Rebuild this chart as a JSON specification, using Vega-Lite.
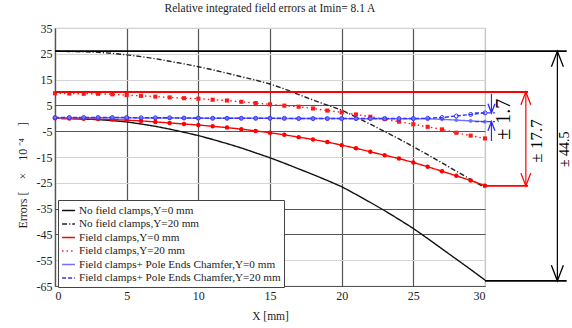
{
 "$schema": "https://vega.github.io/schema/vega-lite/v6.json",
 "width": 430, "height": 258,
 "autosize": {"type": "none"},
 "padding": {"left": 55, "top": 28, "right": 87, "bottom": 42},
 "background": "white",
 "title": {"text": "Relative integrated field errors at Imin= 8.1 A", "font": "Liberation Serif", "fontSize": 11.5, "fontWeight": "normal", "color": "#222", "offset": 8},
 "config": {"view": {"stroke": "#c8c8c8", "strokeWidth": 1.2}, "axis": {"labelOverlap": false, "labelSeparation": 0},
  "locale": {"number": {"decimal": ".", "thousands": ",", "grouping": [3], "currency": ["$", ""], "minus": "-"}}},
 "datasets": {
  "series": [
   {"s":"No field clamps,Y=0 mm","x":0,"v":0},{"s":"No field clamps,Y=0 mm","x":1,"v":-0.1},{"s":"No field clamps,Y=0 mm","x":2,"v":-0.3},{"s":"No field clamps,Y=0 mm","x":3,"v":-0.5},{"s":"No field clamps,Y=0 mm","x":4,"v":-0.9},{"s":"No field clamps,Y=0 mm","x":5,"v":-1.4},{"s":"No field clamps,Y=0 mm","x":6,"v":-2.2},{"s":"No field clamps,Y=0 mm","x":7,"v":-3.1},{"s":"No field clamps,Y=0 mm","x":8,"v":-4.2},{"s":"No field clamps,Y=0 mm","x":9,"v":-5.4},{"s":"No field clamps,Y=0 mm","x":10,"v":-6.7},{"s":"No field clamps,Y=0 mm","x":11,"v":-8.2},{"s":"No field clamps,Y=0 mm","x":12,"v":-9.8},{"s":"No field clamps,Y=0 mm","x":13,"v":-11.5},{"s":"No field clamps,Y=0 mm","x":14,"v":-13.4},{"s":"No field clamps,Y=0 mm","x":15,"v":-15.3},{"s":"No field clamps,Y=0 mm","x":16,"v":-17.4},{"s":"No field clamps,Y=0 mm","x":17,"v":-19.6},{"s":"No field clamps,Y=0 mm","x":18,"v":-21.8},{"s":"No field clamps,Y=0 mm","x":19,"v":-24.1},{"s":"No field clamps,Y=0 mm","x":20,"v":-26.5},{"s":"No field clamps,Y=0 mm","x":21,"v":-29.5},{"s":"No field clamps,Y=0 mm","x":22,"v":-32.6},{"s":"No field clamps,Y=0 mm","x":23,"v":-35.8},{"s":"No field clamps,Y=0 mm","x":24,"v":-39.2},{"s":"No field clamps,Y=0 mm","x":25,"v":-42.7},{"s":"No field clamps,Y=0 mm","x":26,"v":-46.6},{"s":"No field clamps,Y=0 mm","x":27,"v":-50.6},{"s":"No field clamps,Y=0 mm","x":28,"v":-54.6},{"s":"No field clamps,Y=0 mm","x":29,"v":-58.6},{"s":"No field clamps,Y=0 mm","x":30,"v":-62.7},
   {"s":"No field clamps,Y=20 mm","x":0,"v":26.0},{"s":"No field clamps,Y=20 mm","x":1,"v":25.9},{"s":"No field clamps,Y=20 mm","x":2,"v":25.8},{"s":"No field clamps,Y=20 mm","x":3,"v":25.6},{"s":"No field clamps,Y=20 mm","x":4,"v":25.2},{"s":"No field clamps,Y=20 mm","x":5,"v":24.6},{"s":"No field clamps,Y=20 mm","x":6,"v":23.9},{"s":"No field clamps,Y=20 mm","x":7,"v":23.1},{"s":"No field clamps,Y=20 mm","x":8,"v":22.1},{"s":"No field clamps,Y=20 mm","x":9,"v":21.1},{"s":"No field clamps,Y=20 mm","x":10,"v":20.0},{"s":"No field clamps,Y=20 mm","x":11,"v":18.8},{"s":"No field clamps,Y=20 mm","x":12,"v":17.5},{"s":"No field clamps,Y=20 mm","x":13,"v":16.1},{"s":"No field clamps,Y=20 mm","x":14,"v":14.8},{"s":"No field clamps,Y=20 mm","x":15,"v":13.3},{"s":"No field clamps,Y=20 mm","x":16,"v":11.4},{"s":"No field clamps,Y=20 mm","x":17,"v":9.2},{"s":"No field clamps,Y=20 mm","x":18,"v":7.1},{"s":"No field clamps,Y=20 mm","x":19,"v":5.1},{"s":"No field clamps,Y=20 mm","x":20,"v":3.2},{"s":"No field clamps,Y=20 mm","x":21,"v":0.5},{"s":"No field clamps,Y=20 mm","x":22,"v":-2.3},{"s":"No field clamps,Y=20 mm","x":23,"v":-5.1},{"s":"No field clamps,Y=20 mm","x":24,"v":-8.0},{"s":"No field clamps,Y=20 mm","x":25,"v":-11.0},{"s":"No field clamps,Y=20 mm","x":26,"v":-14.1},{"s":"No field clamps,Y=20 mm","x":27,"v":-17.3},{"s":"No field clamps,Y=20 mm","x":28,"v":-20.5},{"s":"No field clamps,Y=20 mm","x":29,"v":-23.7},{"s":"No field clamps,Y=20 mm","x":30,"v":-26.9},
   {"s":"Field clamps,Y=0 mm","x":0,"v":0},{"s":"Field clamps,Y=0 mm","x":1,"v":-0.1},{"s":"Field clamps,Y=0 mm","x":2,"v":-0.2},{"s":"Field clamps,Y=0 mm","x":3,"v":-0.3},{"s":"Field clamps,Y=0 mm","x":4,"v":-0.5},{"s":"Field clamps,Y=0 mm","x":5,"v":-0.7},{"s":"Field clamps,Y=0 mm","x":6,"v":-1.0},{"s":"Field clamps,Y=0 mm","x":7,"v":-1.4},{"s":"Field clamps,Y=0 mm","x":8,"v":-1.8},{"s":"Field clamps,Y=0 mm","x":9,"v":-2.2},{"s":"Field clamps,Y=0 mm","x":10,"v":-2.6},{"s":"Field clamps,Y=0 mm","x":11,"v":-3.1},{"s":"Field clamps,Y=0 mm","x":12,"v":-3.6},{"s":"Field clamps,Y=0 mm","x":13,"v":-4.2},{"s":"Field clamps,Y=0 mm","x":14,"v":-4.9},{"s":"Field clamps,Y=0 mm","x":15,"v":-5.6},{"s":"Field clamps,Y=0 mm","x":16,"v":-6.4},{"s":"Field clamps,Y=0 mm","x":17,"v":-7.3},{"s":"Field clamps,Y=0 mm","x":18,"v":-8.2},{"s":"Field clamps,Y=0 mm","x":19,"v":-9.2},{"s":"Field clamps,Y=0 mm","x":20,"v":-10.4},{"s":"Field clamps,Y=0 mm","x":21,"v":-11.6},{"s":"Field clamps,Y=0 mm","x":22,"v":-13.0},{"s":"Field clamps,Y=0 mm","x":23,"v":-14.3},{"s":"Field clamps,Y=0 mm","x":24,"v":-15.6},{"s":"Field clamps,Y=0 mm","x":25,"v":-17.1},{"s":"Field clamps,Y=0 mm","x":26,"v":-18.8},{"s":"Field clamps,Y=0 mm","x":27,"v":-20.5},{"s":"Field clamps,Y=0 mm","x":28,"v":-22.3},{"s":"Field clamps,Y=0 mm","x":29,"v":-24.1},{"s":"Field clamps,Y=0 mm","x":30,"v":-26.1},
   {"s":"Field clamps,Y=20 mm","x":0,"v":9.7},{"s":"Field clamps,Y=20 mm","x":1,"v":9.6},{"s":"Field clamps,Y=20 mm","x":2,"v":9.5},{"s":"Field clamps,Y=20 mm","x":3,"v":9.5},{"s":"Field clamps,Y=20 mm","x":4,"v":9.3},{"s":"Field clamps,Y=20 mm","x":5,"v":9.0},{"s":"Field clamps,Y=20 mm","x":6,"v":8.7},{"s":"Field clamps,Y=20 mm","x":7,"v":8.4},{"s":"Field clamps,Y=20 mm","x":8,"v":8.1},{"s":"Field clamps,Y=20 mm","x":9,"v":7.8},{"s":"Field clamps,Y=20 mm","x":10,"v":7.6},{"s":"Field clamps,Y=20 mm","x":11,"v":7.2},{"s":"Field clamps,Y=20 mm","x":12,"v":6.9},{"s":"Field clamps,Y=20 mm","x":13,"v":6.4},{"s":"Field clamps,Y=20 mm","x":14,"v":5.9},{"s":"Field clamps,Y=20 mm","x":15,"v":5.4},{"s":"Field clamps,Y=20 mm","x":16,"v":4.9},{"s":"Field clamps,Y=20 mm","x":17,"v":4.5},{"s":"Field clamps,Y=20 mm","x":18,"v":3.8},{"s":"Field clamps,Y=20 mm","x":19,"v":3.0},{"s":"Field clamps,Y=20 mm","x":20,"v":2.3},{"s":"Field clamps,Y=20 mm","x":21,"v":1.5},{"s":"Field clamps,Y=20 mm","x":22,"v":0.6},{"s":"Field clamps,Y=20 mm","x":23,"v":-0.3},{"s":"Field clamps,Y=20 mm","x":24,"v":-1.3},{"s":"Field clamps,Y=20 mm","x":25,"v":-2.3},{"s":"Field clamps,Y=20 mm","x":26,"v":-3.3},{"s":"Field clamps,Y=20 mm","x":27,"v":-4.3},{"s":"Field clamps,Y=20 mm","x":28,"v":-5.6},{"s":"Field clamps,Y=20 mm","x":29,"v":-6.7},{"s":"Field clamps,Y=20 mm","x":30,"v":-7.8},
   {"s":"Field clamps+ Pole Ends Chamfer,Y=0 mm","x":0,"v":0.2},{"s":"Field clamps+ Pole Ends Chamfer,Y=0 mm","x":1,"v":0.2},{"s":"Field clamps+ Pole Ends Chamfer,Y=0 mm","x":2,"v":0.2},{"s":"Field clamps+ Pole Ends Chamfer,Y=0 mm","x":3,"v":0.2},{"s":"Field clamps+ Pole Ends Chamfer,Y=0 mm","x":4,"v":0.2},{"s":"Field clamps+ Pole Ends Chamfer,Y=0 mm","x":5,"v":0.2},{"s":"Field clamps+ Pole Ends Chamfer,Y=0 mm","x":6,"v":0.1},{"s":"Field clamps+ Pole Ends Chamfer,Y=0 mm","x":7,"v":0.1},{"s":"Field clamps+ Pole Ends Chamfer,Y=0 mm","x":8,"v":0.1},{"s":"Field clamps+ Pole Ends Chamfer,Y=0 mm","x":9,"v":0.1},{"s":"Field clamps+ Pole Ends Chamfer,Y=0 mm","x":10,"v":0.0},{"s":"Field clamps+ Pole Ends Chamfer,Y=0 mm","x":11,"v":0.0},{"s":"Field clamps+ Pole Ends Chamfer,Y=0 mm","x":12,"v":0.0},{"s":"Field clamps+ Pole Ends Chamfer,Y=0 mm","x":13,"v":0.0},{"s":"Field clamps+ Pole Ends Chamfer,Y=0 mm","x":14,"v":0.0},{"s":"Field clamps+ Pole Ends Chamfer,Y=0 mm","x":15,"v":0.0},{"s":"Field clamps+ Pole Ends Chamfer,Y=0 mm","x":16,"v":-0.1},{"s":"Field clamps+ Pole Ends Chamfer,Y=0 mm","x":17,"v":-0.1},{"s":"Field clamps+ Pole Ends Chamfer,Y=0 mm","x":18,"v":-0.1},{"s":"Field clamps+ Pole Ends Chamfer,Y=0 mm","x":19,"v":-0.1},{"s":"Field clamps+ Pole Ends Chamfer,Y=0 mm","x":20,"v":-0.1},{"s":"Field clamps+ Pole Ends Chamfer,Y=0 mm","x":21,"v":-0.2},{"s":"Field clamps+ Pole Ends Chamfer,Y=0 mm","x":22,"v":-0.2},{"s":"Field clamps+ Pole Ends Chamfer,Y=0 mm","x":23,"v":-0.2},{"s":"Field clamps+ Pole Ends Chamfer,Y=0 mm","x":24,"v":-0.2},{"s":"Field clamps+ Pole Ends Chamfer,Y=0 mm","x":25,"v":-0.2},{"s":"Field clamps+ Pole Ends Chamfer,Y=0 mm","x":26,"v":-0.2},{"s":"Field clamps+ Pole Ends Chamfer,Y=0 mm","x":27,"v":-0.4},{"s":"Field clamps+ Pole Ends Chamfer,Y=0 mm","x":28,"v":-0.7},{"s":"Field clamps+ Pole Ends Chamfer,Y=0 mm","x":29,"v":-1.0},{"s":"Field clamps+ Pole Ends Chamfer,Y=0 mm","x":30,"v":-1.3},
   {"s":"Field clamps+ Pole Ends Chamfer,Y=20 mm","x":0,"v":0.3},{"s":"Field clamps+ Pole Ends Chamfer,Y=20 mm","x":1,"v":0.3},{"s":"Field clamps+ Pole Ends Chamfer,Y=20 mm","x":2,"v":0.3},{"s":"Field clamps+ Pole Ends Chamfer,Y=20 mm","x":3,"v":0.3},{"s":"Field clamps+ Pole Ends Chamfer,Y=20 mm","x":4,"v":0.3},{"s":"Field clamps+ Pole Ends Chamfer,Y=20 mm","x":5,"v":0.3},{"s":"Field clamps+ Pole Ends Chamfer,Y=20 mm","x":6,"v":0.2},{"s":"Field clamps+ Pole Ends Chamfer,Y=20 mm","x":7,"v":0.2},{"s":"Field clamps+ Pole Ends Chamfer,Y=20 mm","x":8,"v":0.2},{"s":"Field clamps+ Pole Ends Chamfer,Y=20 mm","x":9,"v":0.1},{"s":"Field clamps+ Pole Ends Chamfer,Y=20 mm","x":10,"v":0.1},{"s":"Field clamps+ Pole Ends Chamfer,Y=20 mm","x":11,"v":0.0},{"s":"Field clamps+ Pole Ends Chamfer,Y=20 mm","x":12,"v":0.0},{"s":"Field clamps+ Pole Ends Chamfer,Y=20 mm","x":13,"v":0.0},{"s":"Field clamps+ Pole Ends Chamfer,Y=20 mm","x":14,"v":0.0},{"s":"Field clamps+ Pole Ends Chamfer,Y=20 mm","x":15,"v":0.0},{"s":"Field clamps+ Pole Ends Chamfer,Y=20 mm","x":16,"v":0.0},{"s":"Field clamps+ Pole Ends Chamfer,Y=20 mm","x":17,"v":-0.1},{"s":"Field clamps+ Pole Ends Chamfer,Y=20 mm","x":18,"v":-0.1},{"s":"Field clamps+ Pole Ends Chamfer,Y=20 mm","x":19,"v":-0.1},{"s":"Field clamps+ Pole Ends Chamfer,Y=20 mm","x":20,"v":-0.1},{"s":"Field clamps+ Pole Ends Chamfer,Y=20 mm","x":21,"v":-0.1},{"s":"Field clamps+ Pole Ends Chamfer,Y=20 mm","x":22,"v":-0.1},{"s":"Field clamps+ Pole Ends Chamfer,Y=20 mm","x":23,"v":-0.1},{"s":"Field clamps+ Pole Ends Chamfer,Y=20 mm","x":24,"v":-0.1},{"s":"Field clamps+ Pole Ends Chamfer,Y=20 mm","x":25,"v":-0.1},{"s":"Field clamps+ Pole Ends Chamfer,Y=20 mm","x":26,"v":0.0},{"s":"Field clamps+ Pole Ends Chamfer,Y=20 mm","x":27,"v":0.3},{"s":"Field clamps+ Pole Ends Chamfer,Y=20 mm","x":28,"v":0.9},{"s":"Field clamps+ Pole Ends Chamfer,Y=20 mm","x":29,"v":1.5},{"s":"Field clamps+ Pole Ends Chamfer,Y=20 mm","x":30,"v":2.1}
  ],
  "hr": [
   {"g":"n","x":0,"x2":35.7,"v":26},
   {"g":"n","x":30,"x2":35.7,"v":-63},
   {"g":"c","x":0,"x2":33.0,"v":10.2},
   {"g":"c","x":30,"x2":33.0,"v":-26.2}
  ],
  "vr": [
   {"g":"n","x":35.05,"v":26,"v2":-63},
   {"g":"c","x":32.85,"v":10.2,"v2":-26.2},
   {"g":"b","x":30.45,"v":9.5,"v2":2.1},
   {"g":"b","x":30.45,"v":-8.8,"v2":-1.3}
  ],
  "bd": [
   {"x":29.3,"x2":30.7,"v":2.1},
   {"x":29.3,"x2":30.7,"v":-1.3}
  ],
  "ah": [
   {"g":"n","x":35.05,"v":26,"d":"up"},
   {"g":"n","x":35.05,"v":-63,"d":"down"},
   {"g":"c","x":32.85,"v":10.2,"d":"up"},
   {"g":"c","x":32.85,"v":-26.2,"d":"down"},
   {"g":"b","x":30.45,"v":2.1,"d":"down"},
   {"g":"b","x":30.45,"v":-1.3,"d":"up"}
  ],
  "tx": [
   {"g":"n","t":"± 44.5","x":35.55,"v":-12},
   {"g":"c","t":"± 17.7","x":33.65,"v":-8.8},
   {"g":"b","t":"± 1.7","x":31.35,"v":-0.4}
  ]
 },
 "encoding": {
  "x": {"field": "x", "type": "quantitative", "scale": {"domain": [0, 30], "nice": false, "zero": false},
   "axis": {"values": [0,5,10,15,20,25,30], "title": "X [mm]", "grid": true, "labelOverlap": false,
    "gridColor": {"condition": {"test": "datum.value == 30", "value": "#c8c8c8"}, "value": "#555555"},
    "gridWidth": 1.2, "domainColor": "#555555", "domainWidth": 1.2, "ticks": false, "tickSize": 0,
    "labelFont": "Liberation Serif", "labelFontSize": 12, "labelColor": "#222", "labelPadding": 4,
    "titleFont": "Liberation Serif", "titleFontSize": 11.5, "titleFontWeight": "normal", "titleColor": "#222",
    "titleY": 30, "titleBaseline": "middle"}},
  "y": {"field": "v", "type": "quantitative", "scale": {"domain": [-65, 35], "nice": false, "zero": false},
   "axis": {"values": [-65,-55,-45,-35,-25,-15,-5,5,15,25,35], "format": "d", "title": "Errors [\u2003×\u200310\u2009⁻⁴\u2003]", "grid": true, "labelOverlap": false, "labelBound": false,
    "gridColor": {"condition": {"test": "indexof([5,-5,-35,-45,-65], datum.value) >= 0", "value": "#555555"}, "value": "#d4d4d4"},
    "gridWidth": 1.2, "domainColor": "#555555", "domainWidth": 1.2, "ticks": false, "tickSize": 0,
    "labelFont": "Liberation Serif", "labelFontSize": 12, "labelColor": "#222", "labelPadding": 3,
    "titleFont": "Liberation Serif", "titleFontSize": 12, "titleFontWeight": "normal", "titleColor": "#222",
    "titleX": -33, "titleY": 200, "titleAngle": 270, "titleAlign": "left", "titleBaseline": "middle"}}
 },
 "layer": [
  {
   "data": {"name": "series"},
   "mark": {"type": "line", "strokeWidth": 1.4},
   "encoding": {
    "color": {"field": "s", "type": "nominal",
     "scale": {"domain": ["No field clamps,Y=0 mm","No field clamps,Y=20 mm","Field clamps,Y=0 mm","Field clamps,Y=20 mm","Field clamps+ Pole Ends Chamfer,Y=0 mm","Field clamps+ Pole Ends Chamfer,Y=20 mm"],
      "range": ["#111111","#222222","#ff0000","#ff1a1a","#7070ff","#3333ff"]},
     "legend": {"title": null, "orient": "none", "legendX": 3, "legendY": 172, "symbolType": "stroke", "symbolSize": 165, "symbolStrokeWidth": 1.5,
      "labelFont": "Liberation Serif", "labelFontSize": 11.2, "labelColor": "#222", "labelLimit": 400, "labelOffset": 3,
      "strokeColor": "#444444", "fillColor": "white", "padding": 3, "rowPadding": 0.5}},
    "strokeDash": {"field": "s", "type": "nominal",
     "scale": {"domain": ["No field clamps,Y=0 mm","No field clamps,Y=20 mm","Field clamps,Y=0 mm","Field clamps,Y=20 mm","Field clamps+ Pole Ends Chamfer,Y=0 mm","Field clamps+ Pole Ends Chamfer,Y=20 mm"],
      "range": [[1,0],[5,2,1.2,2],[1,0],[1.5,3],[1,0],[4,2]]},
     "legend": {"title": null, "orient": "none", "legendX": 3, "legendY": 172, "symbolType": "stroke", "symbolSize": 165, "symbolStrokeWidth": 1.5,
      "labelFont": "Liberation Serif", "labelFontSize": 11.2, "labelColor": "#222", "labelLimit": 400, "labelOffset": 3,
      "strokeColor": "#444444", "fillColor": "white", "padding": 3, "rowPadding": 0.5}}
   }
  },
  {
   "data": {"name": "series"},
   "transform": [{"filter": {"field": "s", "oneOf": ["Field clamps,Y=0 mm","Field clamps,Y=20 mm","Field clamps+ Pole Ends Chamfer,Y=0 mm"]}}],
   "mark": {"type": "point", "filled": true, "opacity": 1},
   "encoding": {
    "color": {"field": "s", "type": "nominal", "legend": null},
    "shape": {"field": "s", "type": "nominal", "scale": {"domain": ["Field clamps,Y=0 mm","Field clamps,Y=20 mm","Field clamps+ Pole Ends Chamfer,Y=0 mm"], "range": ["circle","square","circle"]}, "legend": null},
    "size": {"field": "s", "type": "nominal", "scale": {"domain": ["Field clamps,Y=0 mm","Field clamps,Y=20 mm","Field clamps+ Pole Ends Chamfer,Y=0 mm"], "range": [20, 14, 10]}, "legend": null}
   }
  },
  {
   "data": {"name": "series"},
   "transform": [{"filter": {"field": "s", "equal": "Field clamps+ Pole Ends Chamfer,Y=20 mm"}}],
   "mark": {"type": "point", "filled": false, "shape": "circle", "size": 16, "strokeWidth": 1, "opacity": 1},
   "encoding": {
    "color": {"field": "s", "type": "nominal", "legend": null}
   }
  },
  {
   "data": {"name": "hr"},
   "mark": {"type": "rule", "strokeWidth": 1.8},
   "encoding": {
    "x2": {"field": "x2"},
    "stroke": {"field": "g", "type": "nominal", "scale": {"domain": ["n","c","b"], "range": ["#000000","#ff0000","#2a2aff"]}, "legend": null}
   }
  },
  {
   "data": {"name": "vr"},
   "mark": {"type": "rule", "strokeWidth": 1.2},
   "encoding": {
    "y2": {"field": "v2"},
    "stroke": {"field": "g", "type": "nominal", "legend": null}
   }
  },
  {
   "data": {"name": "bd"},
   "mark": {"type": "rule", "strokeWidth": 1.2, "strokeDash": [4, 2], "color": "#3a3aff"},
   "encoding": {
    "x2": {"field": "x2"}
   }
  },
  {
   "data": {"name": "ah"},
   "mark": {"type": "point", "filled": false, "strokeWidth": 1.3, "opacity": 1},
   "encoding": {
    "shape": {"field": "d", "type": "nominal", "scale": {"domain": ["up","down"], "range": ["M-1,2.6L0,0L1,2.6", "M-1,-2.6L0,0L1,-2.6"]}, "legend": null},
    "size": {"field": "g", "type": "nominal", "scale": {"domain": ["n","c","b"], "range": [144, 49, 64]}, "legend": null},
    "stroke": {"field": "g", "type": "nominal", "legend": null}
   }
  },
  {
   "data": {"name": "tx"},
   "mark": {"type": "text", "angle": 270, "font": "Liberation Serif", "align": "center", "baseline": "middle"},
   "encoding": {
    "text": {"field": "t"},
    "fill": {"field": "g", "type": "nominal", "scale": {"domain": ["n","c","b"], "range": ["#000000","#000000","#000000"]}, "legend": null},
    "size": {"field": "g", "type": "nominal", "scale": {"domain": ["n","c","b"], "range": [14, 20, 19]}, "legend": null}
   }
  }
 ],
 "resolve": {"scale": {"shape": "independent", "size": "independent"}}
}
